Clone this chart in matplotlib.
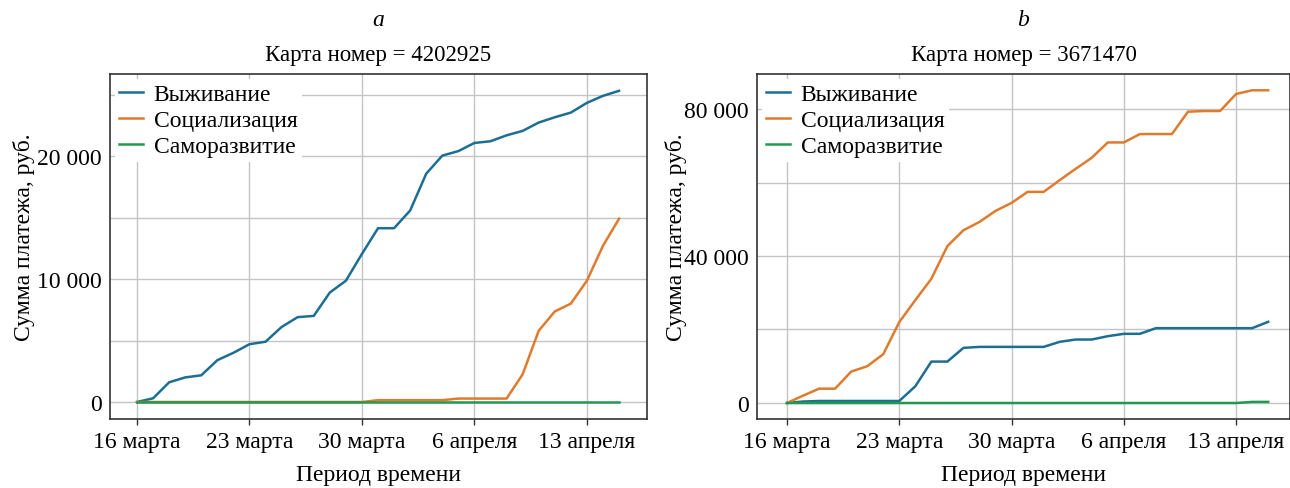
import matplotlib
matplotlib.use("Agg")
import matplotlib.pyplot as plt
from matplotlib.ticker import MultipleLocator, FuncFormatter

plt.rcParams["font.family"] = ["Liberation Serif", "DejaVu Serif"]
plt.rcParams["font.size"] = 17

# ---- data (cumulative payments, one point per day from 16 March) ----
days = list(range(31))
tick_days = [0, 7, 14, 21, 28]
tick_labels = ["16 марта", "23 марта", "30 марта", "6 апреля", "13 апреля"]
series_names = ["Выживание", "Социализация", "Саморазвитие"]

# card 4202925
a_survival = [0, 300, 1600, 2000, 2170, 3400, 4000, 4700, 4900, 6100,
              6900, 7000, 8900, 9860, 12040, 14130, 14130, 15570, 18560, 20030,
              20400, 21060, 21200, 21680, 22040, 22720, 23150, 23530, 24320, 24890,
              25300]
a_social = [0, 0, 0, 0, 0, 0, 0, 0, 0, 0,
            0, 0, 0, 0, 0, 150, 150, 150, 150, 150,
            280, 280, 280, 280, 2250, 5790, 7360, 8000, 9860, 12700,
            14900]
a_selfdev = [0] * 31

# card 3671470
b_survival = [0, 400, 550, 550, 550, 550, 550, 550, 4550, 11270,
              11270, 15000, 15270, 15270, 15270, 15270, 15270, 16640, 17270, 17270,
              18180, 18820, 18820, 20360, 20360, 20360, 20360, 20360, 20360, 20360,
              22090]
b_social = [0, 2000, 3900, 3900, 8550, 10000, 13270, 22000, 28000, 33800,
            42700, 47000, 49270, 52270, 54450, 57450, 57450, 60640, 63730, 66730,
            70900, 70900, 73180, 73180, 73180, 79270, 79450, 79450, 84090, 85090,
            85090]
b_selfdev = [0] * 29 + [300, 300]

colors = ["#1c6e93", "#e07b2e", "#1f9a4e"]


def fmt(v, pos):
    return "{:,}".format(int(v)).replace(",", " ")


fig = plt.figure(figsize=(12.9, 4.89), dpi=100)

panels = [
    # axes rect, data, ylim, xlim, major, minor, letter, title, ylabel x (px)
    ([110/1290, 69/489, 537/1290, 345/489], [a_survival, a_social, a_selfdev],
     (-1382, 26667), (-1.68, 31.74), 10000, 5000, "a", "Карта номер = 4202925", 35),
    ([757/1290, 69/489, 533/1290, 345/489], [b_survival, b_social, b_selfdev],
     (-4354, 89524), (-1.87, 31.36), 40000, 20000, "b", "Карта номер = 3671470", 687),
]

for rect, data, ylim, xlim, major, minor, letter, title, ylab_x in panels:
    ax = fig.add_axes(rect)
    for vals, name, c in zip(data, series_names, colors):
        ax.plot(days, vals, color=c, lw=1.8, label=name, zorder=3)
    ax.set_xlim(*xlim)
    ax.set_ylim(*ylim)
    ax.set_xticks(tick_days)
    ax.set_xticklabels(tick_labels)
    ax.yaxis.set_major_locator(MultipleLocator(major))
    ax.yaxis.set_minor_locator(MultipleLocator(minor))
    ax.yaxis.set_major_formatter(FuncFormatter(fmt))
    ax.grid(which="both", color="#c4c4c4", lw=1.0, zorder=0)
    ax.tick_params(axis="y", which="both", length=0, pad=6)
    ax.tick_params(axis="x", length=4, width=1, color="#333333", pad=5)
    for s in ax.spines.values():
        s.set_color("#333333")
        s.set_linewidth(1.2)
    leg = ax.legend(loc="upper left", frameon=True, framealpha=1, edgecolor="none",
                    facecolor="white", handlelength=1.0, handletextpad=0.45,
                    borderpad=0.2, labelspacing=0.2, borderaxespad=0.2)
    leg.set_zorder(5)
    ax.set_title(title, pad=10, fontsize=16.5)
    ax.set_xlabel("Период времени")
    ax.xaxis.set_label_coords(0.5, -56/345)
    ax.xaxis.label.set_va("center")
    ax.set_ylabel("Сумма платежа, руб.", fontsize=17)
    ax.yaxis.set_label_coords((ylab_x - rect[0]*1290) / (rect[2]*1290), 0.53)
    fig.text(rect[0] + rect[2]/2, 1 - 20/489, letter, style="italic",
             ha="center", va="center")

fig.savefig("out.png", dpi=100)
